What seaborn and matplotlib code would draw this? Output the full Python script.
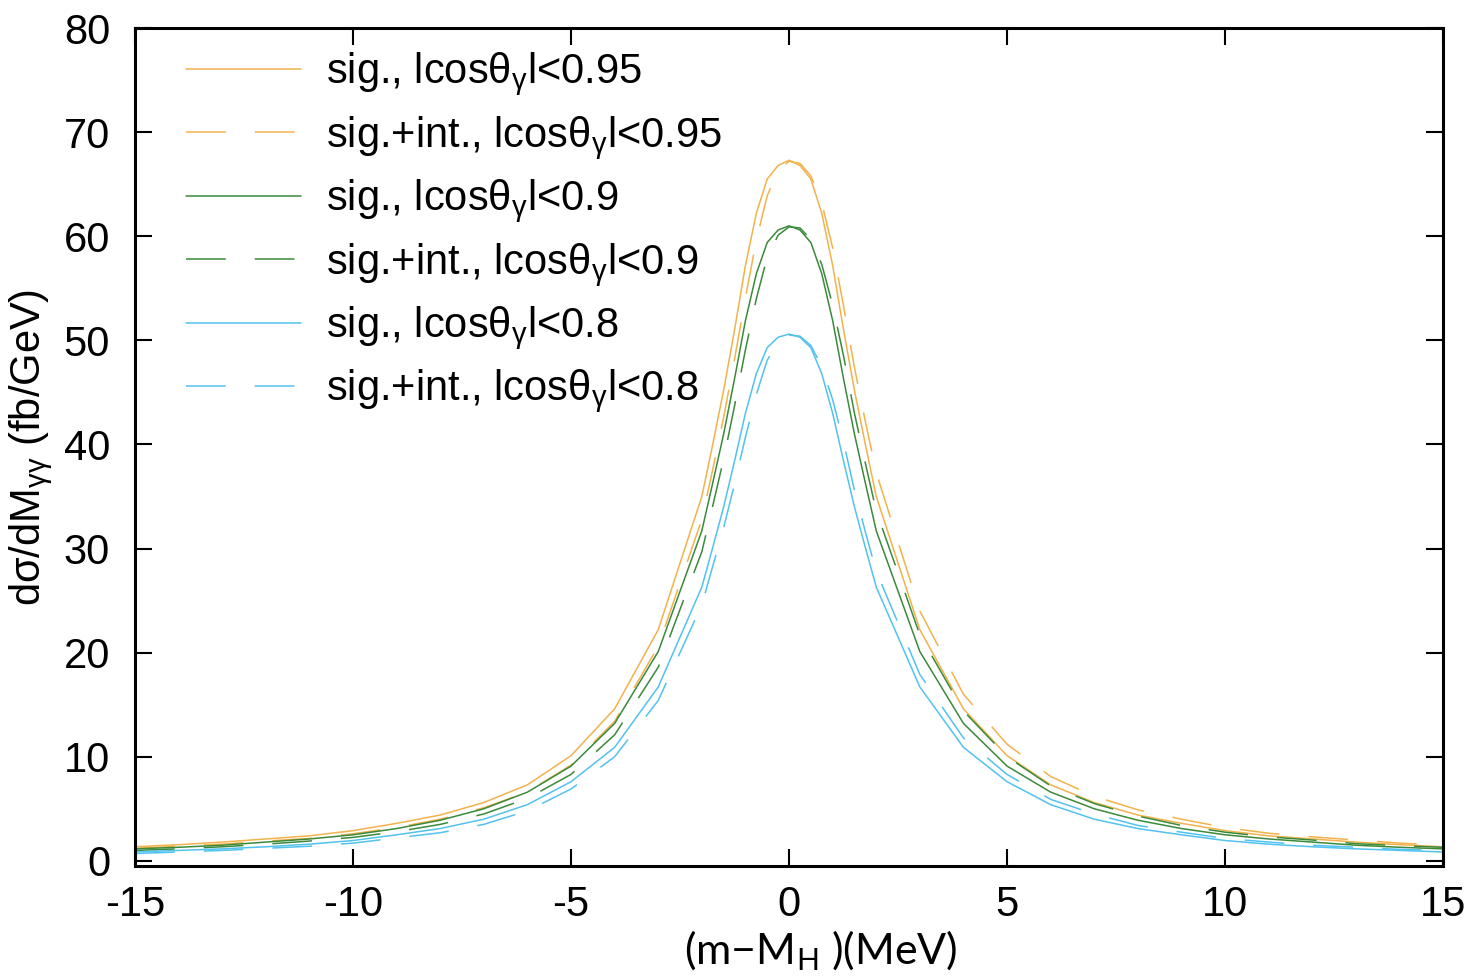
import matplotlib
matplotlib.use("Agg")
import matplotlib.pyplot as plt
import seaborn as sns
import numpy as np
import pandas as pd

# data (x in MeV, y in fb/GeV)
mass_shift = [-15, -14, -13, -12, -11, -10, -9, -8, -7, -6, -5, -4, -3,
              -2, -1.75, -1.5, -1.25, -1, -0.75, -0.5, -0.25, 0, 0.25, 0.5, 0.75, 1, 1.25, 1.5, 1.75, 2,
              3, 4, 5, 6, 7, 8, 9, 10, 11, 12, 13, 14, 15]

sig_095 = [1.35, 1.55, 1.8, 2.1, 2.4, 2.9, 3.6, 4.4, 5.6, 7.3, 10.1, 14.6, 22.2,
           35.0, 40.0, 45.2, 51.0, 57.2, 62.2, 65.5, 66.8, 67.3, 66.8, 65.5, 62.2, 57.2, 51.0, 45.2, 40.0, 35.0,
           22.2, 14.6, 10.1, 7.3, 5.6, 4.4, 3.6, 2.9, 2.4, 2.1, 1.8, 1.55, 1.35]
int_095 = [1.2, 1.4, 1.6, 1.9, 2.15, 2.6, 3.2, 4.0, 5.1, 6.6, 9.2, 13.4, 20.6,
           32.8, 37.6, 42.6, 48.2, 54.1, 59.6, 63.9, 66.3, 67.2, 67.0, 65.8, 63.2, 58.9, 53.3, 47.4, 42.2, 37.3,
           24.0, 16.0, 11.2, 8.1, 6.2, 4.9, 4.0, 3.2, 2.65, 2.3, 2.0, 1.7, 1.5]
sig_09 = [1.15, 1.3, 1.5, 1.8, 2.1, 2.5, 3.1, 3.9, 5.0, 6.6, 9.1, 13.2, 20.1,
          31.7, 36.3, 41.0, 46.3, 51.9, 56.4, 59.4, 60.6, 61.0, 60.6, 59.4, 56.4, 51.9, 46.3, 41.0, 36.3, 31.7,
          20.1, 13.2, 9.1, 6.6, 5.0, 3.9, 3.1, 2.5, 2.1, 1.8, 1.5, 1.3, 1.15]
int_09 = [1.0, 1.15, 1.35, 1.6, 1.9, 2.25, 2.8, 3.5, 4.5, 6.0, 8.3, 12.1, 18.6,
          29.7, 34.1, 38.6, 43.7, 49.1, 54.0, 58.0, 60.1, 60.9, 60.8, 59.7, 57.3, 53.4, 48.5, 43.0, 38.2, 33.6,
          21.7, 14.4, 10.0, 7.2, 5.5, 4.3, 3.4, 2.75, 2.3, 2.0, 1.65, 1.45, 1.3]
sig_08 = [0.85, 1.0, 1.15, 1.35, 1.6, 1.95, 2.5, 3.1, 4.0, 5.4, 7.6, 10.9, 16.7,
          26.3, 30.1, 34.0, 38.4, 43.0, 46.8, 49.3, 50.3, 50.6, 50.3, 49.3, 46.8, 43.0, 38.4, 34.0, 30.1, 26.3,
          16.7, 10.9, 7.6, 5.4, 4.0, 3.1, 2.5, 1.95, 1.6, 1.35, 1.15, 1.0, 0.85]
int_08 = [0.7, 0.85, 1.0, 1.2, 1.4, 1.7, 2.2, 2.7, 3.5, 4.8, 6.9, 10.0, 15.4,
          24.6, 28.3, 32.0, 36.2, 40.7, 44.8, 48.1, 49.8, 50.5, 50.4, 49.5, 47.5, 44.3, 40.2, 35.6, 31.6, 27.8,
          17.9, 11.8, 8.3, 5.9, 4.5, 3.4, 2.75, 2.15, 1.8, 1.5, 1.3, 1.1, 1.0]

labels = [
    "sig., lcosθ$_\\mathregular{γ}$l<0.95",
    "sig.+int., lcosθ$_\\mathregular{γ}$l<0.95",
    "sig., lcosθ$_\\mathregular{γ}$l<0.9",
    "sig.+int., lcosθ$_\\mathregular{γ}$l<0.9",
    "sig., lcosθ$_\\mathregular{γ}$l<0.8",
    "sig.+int., lcosθ$_\\mathregular{γ}$l<0.8",
]
series = [sig_095, int_095, sig_09, int_09, sig_08, int_08]

c_orange = "#f2b24c"
c_green = "#3b8a3b"
c_blue = "#52c2ee"
colors = [c_orange, c_orange, c_green, c_green, c_blue, c_blue]
dashed = [False, True, False, True, False, True]

sns.set_style("ticks")
plt.rcParams['font.family'] = ['Liberation Sans', 'DejaVu Sans']
plt.rcParams['mathtext.fontset'] = 'custom'
plt.rcParams['mathtext.rm'] = 'Liberation Sans'
plt.rcParams['mathtext.it'] = 'Liberation Sans:italic'
plt.rcParams['axes.unicode_minus'] = False
for key in ['text.color', 'axes.labelcolor', 'xtick.color', 'ytick.color', 'axes.edgecolor']:
    plt.rcParams[key] = 'black'

fig = plt.figure(figsize=(14.79, 9.8), dpi=100)
ax = fig.add_axes([0.0913, 0.1163, 0.8844, 0.8551])

for vals, lab, col, dsh in zip(series, labels, colors, dashed):
    df = pd.DataFrame({"x": mass_shift, "y": vals})
    sns.lineplot(data=df, x="x", y="y", ax=ax, color=col, lw=1.1, label=lab)
    if dsh:
        ax.lines[-1].set_dashes((26, 19))

ax.set_xlim(-15, 15)
ax.set_ylim(-0.5, 80)
ax.set_xticks(np.arange(-15, 16, 5))
ax.set_yticks(np.arange(0, 81, 10))
ax.tick_params(direction='in', length=12, width=1.5, top=True, right=True, labelsize=30)
ax.tick_params(axis='y', pad=18)
ax.tick_params(axis='x', pad=14)
for sp in ax.spines.values():
    sp.set_linewidth(2.2)

ax.set_ylabel("dσ/dM$_\\mathregular{γγ}$ (fb/GeV)", fontsize=30, labelpad=6)
ax.set_xlabel("(m\u2212M$_\\mathregular{H}$ )(MeV)", fontsize=31, family=['Lato', 'DejaVu Sans'])
ax.xaxis.set_label_coords(0.524, -0.074)

ax.legend(loc='upper left', bbox_to_anchor=(0.039, 0.973), frameon=False, fontsize=30,
          handlelength=2.75, handletextpad=0.6, labelspacing=0.38, borderaxespad=0, borderpad=0)

plt.savefig("out.png", dpi=100)
